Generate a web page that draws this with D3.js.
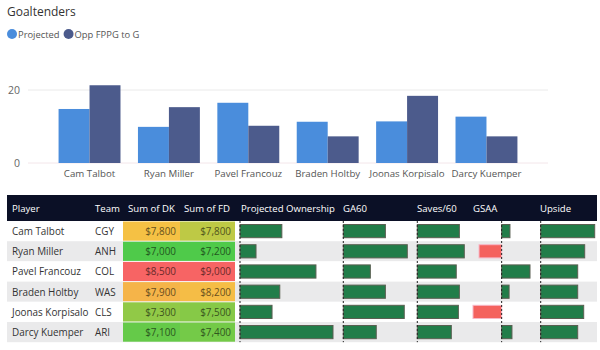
<!DOCTYPE html>
<html>
<head>
<meta charset="utf-8">
<script src="https://cdn.jsdelivr.net/npm/d3@7"></script>
<style>
  body { margin: 0; background: #fff; }
  svg { font-family: "Open Sans", "Noto Sans", sans-serif; }
</style>
</head>
<body>
<div id="chart"></div>
<script>
// data
const players = ["Cam Talbot", "Ryan Miller", "Pavel Francouz", "Braden Holtby", "Joonas Korpisalo", "Darcy Kuemper"];
const teams = ["CGY", "ANH", "COL", "WAS", "CLS", "ARI"];
const projected = [14.8, 9.9, 16.5, 11.3, 11.4, 12.7];
const oppFppg = [21.3, 15.3, 10.2, 7.3, 18.4, 7.3];
const dk = [7800, 7000, 8500, 7900, 7300, 7100];
const fd = [7800, 7200, 9000, 8200, 7500, 7400];
const ownership = [8.1, 3.1, 14.7, 7.7, 6.2, 18.0];
const ga60 = [2.63, 4.0, 1.69, 2.63, 3.81, 2.06];
const saves60 = [29.8, 33.3, 27.6, 29.8, 29.1, 24.1];
const gsaa = [2.9, -7.9, 9.9, 2.6, -10.0, 3.6];
const upside = [21.6, 17.6, 14.8, 14.8, 17.2, 14.8];
const yTicks = [0, 20];

const width = 600, height = 350;

const svg = d3.select("#chart").append("svg")
    .attr("width", width)
    .attr("height", height);

// ---- column chart ----
svg.append("text")
    .attr("x", 7).attr("y", 16)
    .attr("font-size", 12).attr("fill", "#333")
    .text("Goaltenders");

const series = [
    {name: "Projected", values: projected, color: "#4a8ddc"},
    {name: "Opp FPPG to G", values: oppFppg, color: "#4c5b8c"}
];

let lx = 12;
series.forEach(s => {
    svg.append("circle").attr("cx", lx).attr("cy", 34).attr("r", 5).attr("fill", s.color);
    const t = svg.append("text")
        .attr("x", lx + 6).attr("y", 37.5)
        .attr("font-size", 9.4).attr("fill", "#555")
        .text(s.name);
    lx += 6 + t.node().getComputedTextLength() + 9;
});

const x = d3.scaleBand()
    .domain(players)
    .range([28, 548])
    .paddingInner(0.22)
    .paddingOuter(0.385);

const xs = d3.scaleBand()
    .domain(series.map(s => s.name))
    .range([0, x.bandwidth()]);

const y = d3.scaleLinear()
    .domain([0, 20])
    .range([163, 90]);

svg.append("g").selectAll("line")
    .data(yTicks)
    .join("line")
    .attr("x1", 28).attr("x2", 548)
    .attr("y1", d => y(d)).attr("y2", d => y(d))
    .attr("stroke", d => d === 0 ? "#f3e6ea" : "#eaeaea");

svg.append("g").selectAll("text")
    .data(yTicks)
    .join("text")
    .attr("x", 20).attr("y", d => y(d) + 4)
    .attr("text-anchor", "end")
    .attr("font-size", 10.5).attr("fill", "#666")
    .text(d => d);

const groups = svg.append("g").selectAll("g")
    .data(players)
    .join("g")
    .attr("transform", d => "translate(" + x(d) + ",0)");

groups.selectAll("rect")
    .data((d, i) => series.map(s => ({key: s.name, value: s.values[i], color: s.color})))
    .join("rect")
    .attr("x", d => xs(d.key))
    .attr("width", xs.bandwidth())
    .attr("y", d => y(d.value))
    .attr("height", d => y(0) - y(d.value))
    .attr("fill", d => d.color);

svg.append("g").selectAll("text")
    .data(players)
    .join("text")
    .attr("x", d => x(d) + x.bandwidth() / 2)
    .attr("y", 177)
    .attr("text-anchor", "middle")
    .attr("font-size", 9.7).attr("fill", "#555")
    .text(d => d);

// ---- table ----
const headTop = 195, headH = 26, rowH = 20.2;
const rowTop = headTop + headH;
const tLeft = 7, tRight = 597;

svg.append("rect")
    .attr("x", tLeft).attr("y", headTop)
    .attr("width", tRight - tLeft).attr("height", headH)
    .attr("fill", "#0b1026");

const headers = [
    {label: "Player", x: 12}, {label: "Team", x: 95}, {label: "Sum of DK", x: 128},
    {label: "Sum of FD", x: 184}, {label: "Projected Ownership", x: 241}, {label: "GA60", x: 343},
    {label: "Saves/60", x: 417}, {label: "GSAA", x: 473}, {label: "Upside", x: 540}
];
svg.append("g").selectAll("text")
    .data(headers)
    .join("text")
    .attr("x", d => d.x).attr("y", headTop + 16.5)
    .attr("font-size", 9.6).attr("fill", "#fff")
    .text(d => d.label);

const rows = svg.append("g").selectAll("g")
    .data(players)
    .join("g")
    .attr("transform", (d, i) => "translate(0," + (rowTop + i * rowH) + ")");

rows.append("rect")
    .attr("x", tLeft).attr("width", tRight - tLeft)
    .attr("height", rowH)
    .attr("fill", (d, i) => i % 2 ? "#eaeaeb" : "#fff");

rows.append("text")
    .attr("x", 12).attr("y", 14)
    .attr("font-size", 9.9).attr("fill", "#333")
    .text(d => d);

rows.append("text")
    .attr("x", 95).attr("y", 14)
    .attr("font-size", 9.9).attr("fill", "#333")
    .text((d, i) => teams[i]);

// conditional colour cells
const money = d3.format("$,");
function heat(vals) {
    const lo = d3.min(vals), hi = d3.max(vals);
    return d3.scaleLinear()
        .domain([lo, (lo + hi) / 2, hi])
        .range(["#4fca4a", "#f5c842", "#f76464"]);
}
[{vals: dk, x0: 123, x1: 180}, {vals: fd, x0: 180, x1: 235}].forEach(col => {
    const c = heat(col.vals);
    rows.append("rect")
        .attr("x", col.x0).attr("y", 0.5)
        .attr("width", col.x1 - col.x0).attr("height", rowH - 1)
        .attr("fill", (d, i) => c(col.vals[i]));
    rows.append("text")
        .attr("x", col.x1 - 4).attr("y", 14)
        .attr("text-anchor", "end")
        .attr("font-size", 9.9)
        .attr("fill", (d, i) => d3.color(c(col.vals[i])).darker(2.4))
        .text((d, i) => money(col.vals[i]));
});

// data bar columns
const barCols = [
    {vals: ownership, domain: [0, 18.0], range: [240, 333]},
    {vals: ga60, domain: [0, 4.0], range: [343.3, 407.3]},
    {vals: saves60, domain: [0, 33.3], range: [417.3, 464.3]},
    {vals: gsaa, domain: [-10.0, 9.9], range: [473, 530]},
    {vals: upside, domain: [0, 21.6], range: [540.7, 594.7]}
];

barCols.forEach(col => {
    const s = d3.scaleLinear().domain(col.domain).range(col.range);
    rows.append("rect")
        .attr("x", (d, i) => Math.min(s(0), s(col.vals[i])))
        .attr("y", 3.5)
        .attr("width", (d, i) => Math.abs(s(col.vals[i]) - s(0)))
        .attr("height", rowH - 7)
        .attr("fill", (d, i) => col.vals[i] < 0 ? "#f4625e" : "#217d49")
        .attr("stroke", (d, i) => col.vals[i] < 0 ? "#f7b8c8" : "#5a5f52")
        .attr("stroke-width", 1);
    svg.append("line")
        .attr("x1", s(0)).attr("x2", s(0))
        .attr("y1", rowTop).attr("y2", rowTop + rowH * players.length)
        .attr("stroke", "#222")
        .attr("stroke-dasharray", "2,2");
});
</script>
</body>
</html>
